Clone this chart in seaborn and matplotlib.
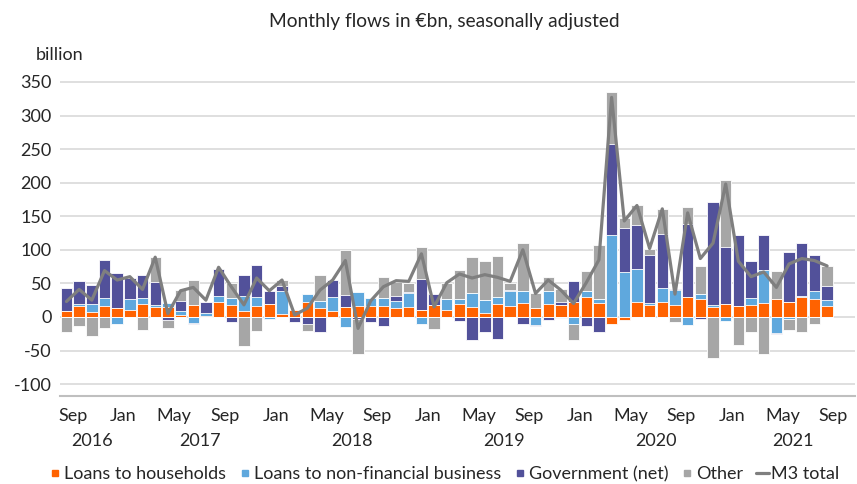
import numpy as np
import pandas as pd
import matplotlib
matplotlib.use("Agg")
import matplotlib.pyplot as plt
import matplotlib.transforms as mtransforms
from matplotlib.lines import Line2D
import seaborn as sns

# ---------------- data (EUR bn, monthly flows) ----------------
months = pd.date_range("2016-09-01", "2021-09-01", freq="MS")

households = [9.5, 16.4, 7.5, 16.4, 14, 11, 20, 15, 15, 3, 17.4, 1, 23, 18, 9, 16,
              20, 5, 10.4, 22, 13, 9, 15, 16.4, 16.4, 16.4, 14, 15.4, 10, 17.4, 11, 19,
              15, 6, 19.4, 17, 21, 14, 19, 17.4, 22, 29, 21, -11, -4, 22, 17.4, 23,
              18.4, 29, 26, 15, 19, 17, 18.4, 20.4, 27, 23, 29, 26, 17]
business = [0, 3.5, 11.5, 12.4, -11, 16.4, 7.5, 2.5, 6, 6.5, -9.5, 5, 8, 9.5, 22, 14,
            -2.5, 34, 0, 12, 11, 21, -15.4, 21, 12.4, 12.4, 10.4, 20, -10.4, 0, 15, 8,
            20, 19, 10, 21, 17, -12, 19, -2, -11, 9.5, 5.5, 122, 67, 50, 3.5, 19.4,
            22, -12, 7.5, 3, -5.5, 0, 10.4, 49, -24, -3.5, 1.5, 13, 8.5]
government = [33, 34, 29, 56, 52, 31, 35, 34, -4, 14, -1.5, 16, 41, -7, 31, 48,
              18.5, 6.5, -7, -10, -23, 25, 17, -2.5, -7, -13, 7, 2, 46, 16.4, 0, -6,
              -35, -22, -33, 2.5, -10.4, -1, -5, 5, 32, -13, -23, 135, 66, 65, 71, 81,
              1.5, 109.5, -2.5, 153, 85, 105.5, 54, 53, -1.5, 73, 79.6, 53, 20]
other = [-22, -13, -28, -17, 0, 0, -20, 38, -13, 16, 37, 0, 0, 23, -44, -21,
         0, 10, 0, -10.5, 39, 0, 67, -52, 0, 30, 20, 13, 48, -18, 24, 43,
         55, 59, 61, 10, 72, 21.4, 21, 19, -23.4, 30, 80, 78, 14.4, 29, 9.5, 37,
         -7.5, 25, 42, -61, 99.5, -42, -23, -55, 42, -15.4, -23, -10.4, 30]
m3_total = [23, 41, 25, 69, 55, 60, 41, 89, 5, 39, 44, 25, 74, 45, 18, 58,
            39, 55, 3, 13, 40, 55, 84, -17, 24, 45, 54, 53, 94, 15, 51, 64,
            58, 63, 59, 53, 100, 35, 55, 40, 20, 51, 85, 327, 143, 166, 102, 161,
            34, 155, 87, 110, 198, 83, 60, 67, 44, 79, 87, 84, 76]

series_names = ["Loans to households", "Loans to non-financial business",
                "Government (net)", "Other"]
series_colors = ["#FF6200", "#5FA8DD", "#52519A", "#A6A6A6"]
line_color = "#7F7F7F"
year_labels = ["2016", "2017", "2018", "2019", "2020", "2021"]

# ---------------- style ----------------
sns.set_style("white")
plt.rcParams["font.family"] = ["Lato", "DejaVu Sans"]
text_color = "#262626"
fs = 13

fig = plt.figure(figsize=(8.57, 4.84), dpi=100)
W, H = 857, 484
ax_left, ax_right, ax_bottom, ax_top = 60, 855, 395.7, 78.6
ax = fig.add_axes([ax_left / W, (H - ax_bottom) / H,
                   (ax_right - ax_left) / W, (ax_bottom - ax_top) / H])

idx = np.arange(len(months))
vals = np.array([households, business, government, other], dtype=float)
pos = np.clip(vals, 0, None).cumsum(axis=0)
neg = np.clip(vals, None, 0).cumsum(axis=0)

for k in reversed(range(len(series_names))):
    for arr in (pos[k], neg[k]):
        sns.barplot(x=idx, y=arr, color=series_colors[k], width=0.9,
                    edgecolor="white", linewidth=0.6, saturation=1,
                    errorbar=None, ax=ax, zorder=2)

sns.lineplot(x=idx, y=m3_total, color=line_color, linewidth=2.3, ax=ax, zorder=3)

# axes limits / grid
ax.set_xlim(-0.51, 62.2)
ax.set_ylim(-117.3, 355)
ax.set_axisbelow(True)
ax.yaxis.grid(True, color="#D9D9D9", linewidth=1.2)
ax.xaxis.grid(False)
for s in ("top", "right", "left"):
    ax.spines[s].set_visible(False)
ax.spines["bottom"].set_color("#BFBFBF")
ax.spines["bottom"].set_linewidth(1.5)
ax.set_xlabel("")
ax.set_ylabel("")

yt = np.arange(-100, 351, 50)
ax.set_yticks(yt)
ax.set_yticklabels([str(v) for v in yt])
ax.tick_params(axis="y", length=0, pad=6, labelsize=fs, labelcolor=text_color)

tick_idx = [i for i, m in enumerate(months) if m.month in (1, 5, 9)]
ax.set_xticks([i + 0.5 for i in tick_idx])
ax.set_xticklabels([months[i].strftime("%b") for i in tick_idx])
ax.tick_params(axis="x", length=4, width=1, color="#BFBFBF", pad=5,
               labelsize=fs, labelcolor=text_color)

# year labels
year_pos = [2.0, 10.5, 22.5, 34.5, 46.5, 57.3]
trans = mtransforms.blended_transform_factory(ax.transData, ax.transAxes)
ax_h_px = ax_bottom - ax_top
for yl, xp in zip(year_labels, year_pos):
    ax.text(xp, -45.5 / ax_h_px, yl, transform=trans, ha="center", va="center",
            fontsize=fs, color=text_color)

# titles
fig.text(444 / W, 1 - 22 / H, "Monthly flows in €bn, seasonally adjusted",
         ha="center", va="center", fontsize=13.8, color=text_color)
fig.text(36 / W, 1 - 55 / H, "billion", ha="left", va="center",
         fontsize=fs, color=text_color)

# legend
handles = [Line2D([], [], marker="s", linestyle="none", markersize=5,
                  color=c) for c in series_colors]
handles.append(Line2D([], [], color=line_color, linewidth=2.3))
labels = series_names + ["M3 total"]
fig.legend(handles, labels, loc="center", bbox_to_anchor=(444 / W, 1 - 474 / H),
           ncol=5, frameon=False, fontsize=fs, handlelength=0.7,
           handletextpad=0.15, columnspacing=0.7, labelcolor=text_color)

fig.savefig("out.png", dpi=100)
